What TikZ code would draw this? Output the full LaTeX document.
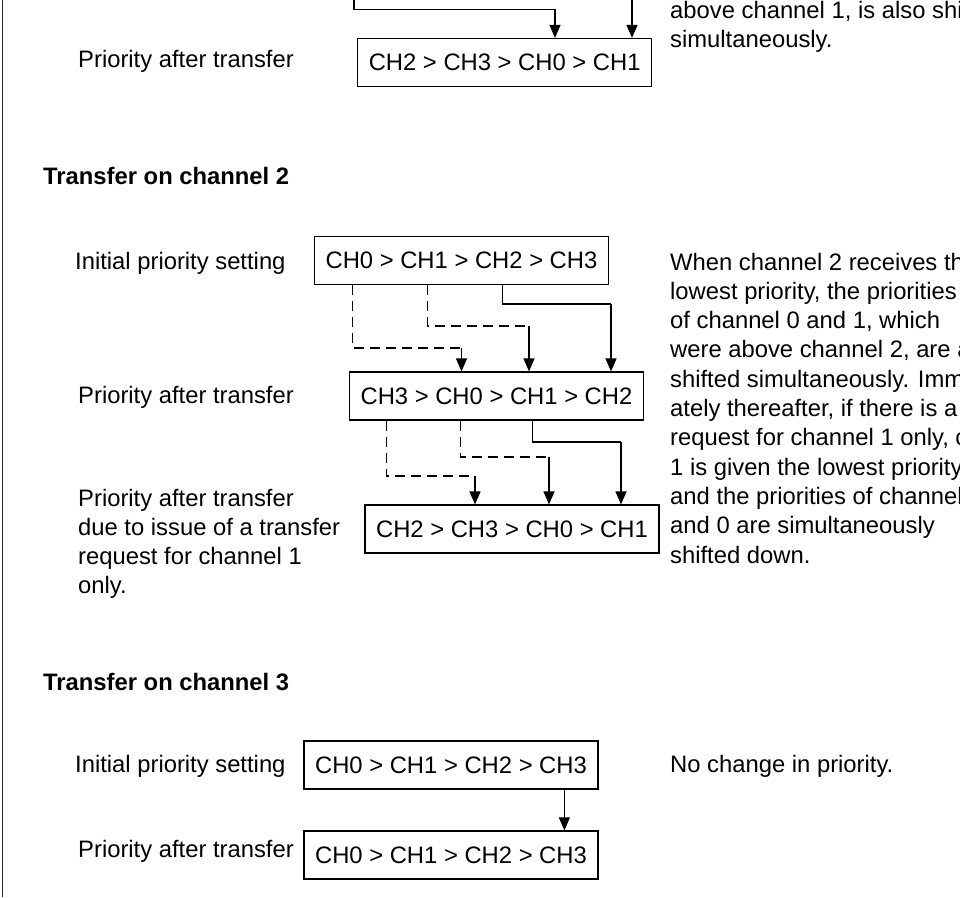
\documentclass[tikz,border=0pt]{standalone}
\usepackage{fontspec}
\setmainfont{Liberation Sans}
\usetikzlibrary{arrows.meta,calc}
\begin{document}
\begin{tikzpicture}[x=1pt,y=-1pt,
  every node/.style={font=\fontsize{23.8}{29.3}\selectfont},
  prio/.style={draw, line width=1.2pt, minimum width=294pt, minimum height=48pt, inner sep=0pt},
  lbl/.style={anchor=base west, inner sep=0pt},
  head/.style={lbl, font=\fontsize{23.8}{29.3}\selectfont\bfseries},
  link/.style={line width=1.2pt},
  dlink/.style={line width=1.2pt, dash pattern=on 10pt off 6pt},
  arr/.style={line width=1.2pt, -{Triangle[length=13pt,width=11pt]}}]
\useasboundingbox (0,0) rectangle (960,897);
\clip (0,0) rectangle (960,897);

% page rule on the left
\draw[line width=1.3pt, black!85] (2.5,0) -- (2.5,897);

% ---- end of the channel 1 case ----
\node[lbl] (t1lbl) at (78,67) {Priority after transfer};
\node[prio] (T) at (504.7,62.5) {CH2 > CH3 > CH0 > CH1};
\coordinate (up1) at (354,-20);
\coordinate (up2) at (632,-20);
\coordinate (bend1) at (555,9.3);
\draw[link] (up1) |- (bend1);
\draw[arr] (bend1) -- (bend1 |- T.north);
\draw[arr] (up2) -- (up2 |- T.north);
\node[lbl] (q1) at (670,18.5) {above channel 1, is also shifted};
\node[lbl] (q2) at (670,47.8) {simultaneously.};

% ---- transfer on channel 2 ----
\node[head] (h2) at (43,184) {Transfer on channel 2};
\node[lbl] (a2lbl) at (75,269) {Initial priority setting};
\node[lbl] (b2lbl) at (78,403) {Priority after transfer};
\node[lbl] (c2l1) at (78,506) {Priority after transfer};
\node[lbl] (c2l2) at (78,535.3) {due to issue of a transfer};
\node[lbl] (c2l3) at (78,564.6) {request for channel 1};
\node[lbl] (c2l4) at (78,593.9) {only.};

\node[prio] (A) at (461.5,260.5) {CH0 > CH1 > CH2 > CH3};
\node[prio] (B) at (496.5,396) {CH3 > CH0 > CH1 > CH2};
\node[prio] (C) at (512,529) {CH2 > CH3 > CH0 > CH1};

% first step: A -> B
\draw[dlink] ([xshift=38.5pt]A.south west) |- (461.5,348) coordinate (k1);
\draw[arr] (k1) -- (k1 |- B.north);
\draw[dlink] ([xshift=113.5pt]A.south west) |- (529,326) coordinate (k2);
\draw[arr] (k2) -- (k2 |- B.north);
\draw[link] ([xshift=188.5pt]A.south west) |- (611,304) coordinate (k3);
\draw[arr] (k3) -- (k3 |- B.north);

% second step: B -> C
\draw[dlink] ([xshift=37.5pt]B.south west) |- (475,476) coordinate (m1);
\draw[arr] (m1) -- (m1 |- C.north);
\draw[dlink] ([xshift=111.5pt]B.south west) |- (549,457) coordinate (m2);
\draw[arr] (m2) -- (m2 |- C.north);
\draw[link] ([xshift=183.5pt]B.south west) |- (621,442) coordinate (m3);
\draw[arr] (m3) -- (m3 |- C.north);

\foreach \t [count=\i] in {
  {When channel 2 receives the},
  {lowest priority, the priorities},
  {of channel 0 and 1, which},
  {were above channel 2, are also},
  {shifted simultaneously. Immedi-},
  {ately thereafter, if there is a transfer},
  {request for channel 1 only, channel},
  {1 is given the lowest priority,},
  {and the priorities of channels 2},
  {and 0 are simultaneously},
  {shifted down.}}
  \node[lbl] (p\i) at (670,{270+29.3*(\i-1)}) {\t};

% ---- transfer on channel 3 ----
\node[head] (h3) at (43,690) {Transfer on channel 3};
\node[lbl] (d3lbl) at (75,772.5) {Initial priority setting};
\node[lbl] (e3lbl) at (78,857) {Priority after transfer};
\node[prio] (D) at (451,765) {CH0 > CH1 > CH2 > CH3};
\node[prio] (E) at (451,855) {CH0 > CH1 > CH2 > CH3};
\draw[arr] ([xshift=261pt]D.south west) -- ([xshift=261pt]D.south west |- E.north);
\node[lbl] (n3) at (670,772.5) {No change in priority.};
\end{tikzpicture}
\end{document}
